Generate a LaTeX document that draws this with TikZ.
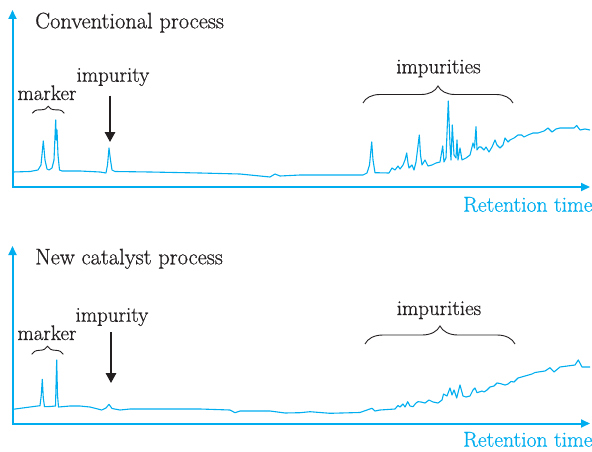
\documentclass[tikz,border=0pt]{standalone}
\usepackage{fontspec}
\usepackage{tikz}
\usetikzlibrary{arrows.meta,decorations.pathreplacing}

\newfontfamily\labelfont{Latin Modern Roman}[FakeBold=0.6]
\definecolor{chromcyan}{RGB}{0,174,239}
\definecolor{ink}{RGB}{35,31,32}

\begin{document}
\begin{tikzpicture}[x=1pt,y=-1pt,
		axis/.style={chromcyan,line width=2pt,arrows={Triangle[length=9pt,width=8pt]-Triangle[length=9pt,width=8pt]}},
		trace/.style={chromcyan,line width=1.1pt,line join=round},
		pointer/.style={ink,line width=1.6pt,-{Triangle[length=10pt,width=10.5pt]},shorten <=9.5pt},
		bracket/.style={ink,line width=0.9pt,decorate,decoration={brace,amplitude=#1}}]
				\useasboundingbox (0,0) rectangle (592,452);

				% axes of both runs
				\coordinate (top1) at (12.5,10);
				\coordinate (o1) at (12.5,187);
				\coordinate (end1) at (590,187);
				\coordinate (top2) at (12.5,246);
				\coordinate (o2) at (12.5,423.5);
				\coordinate (end2) at (590,423.5);
				\draw[axis] (top1) -- (o1) -- (end1);
				\draw[axis] (top2) -- (o2) -- (end2);

				\begin{scope}[every node/.style={inner sep=0pt,anchor=base,font=\labelfont\fontsize{21}{24}\selectfont}]
					\node[ink,anchor=base west,font=\labelfont\fontsize{22.4}{26}\selectfont] (title1) at (35,28.3) {Conventional process};
					\node[ink,anchor=base west,font=\labelfont\fontsize{22.4}{26}\selectfont] (title2) at (35,264.3) {New catalyst process};
					\node[chromcyan,anchor=base west,font=\labelfont\fontsize{21.6}{26}\selectfont] (time1) at (463,211.7) {Retention time};
					\node[chromcyan,anchor=base west,font=\labelfont\fontsize{21.6}{26}\selectfont] (time2) at (463,446.7) {Retention time};
					\node[ink] (mark1) at (47,100) {marker};
					\node[ink] (mark2) at (47,340) {marker};
					\node[ink] (imp1) at (113,81.7) {impurity};
					\node[ink] (imp2) at (112,321.7) {impurity};
					\node[ink] (imps1) at (438.5,73.3) {impurities};
					\node[ink] (imps2) at (439,315) {impurities};
				\end{scope}

				% impurity peaks
				\coordinate (peak1) at (110,142);
				\coordinate (peak2) at (111,383);
				\draw[pointer] (imp1.south -| peak1) -- (peak1);
				\draw[pointer,shorten <=6pt] (imp2.south -| peak2) -- (peak2);

				% braces
				\coordinate (mk1a) at (32.3,113.3);
				\coordinate (mk1b) at (64.3,113.3);
				\coordinate (mk2a) at (31.7,354.3);
				\coordinate (mk2b) at (63.3,354.3);
				\coordinate (im1a) at (363,103);
				\coordinate (im1b) at (513,103);
				\coordinate (im2a) at (365,344);
				\coordinate (im2b) at (515,344);
				\draw[bracket=7pt] (mk1a) -- (mk1b);
				\draw[bracket=8pt] (mk2a) -- (mk2b);
				\draw[bracket=17pt] (im1a) -- (im1b);
				\draw[bracket=18pt] (im2a) -- (im2b);

				% conventional run
				\draw[trace] (13,172) -- (30,171.5) -- (38,170) -- (41,165) -- (43.3,141) -- (45,160) -- (47,169)
					-- (49,170) -- (52,168) -- (54,160) -- (55.7,120) -- (56.3,140) -- (57,130) -- (58,155)
					-- (59.5,170) -- (62,171) -- (80,171) -- (100,172) -- (106,173) -- (107.5,165) -- (109,148)
					-- (110.5,160) -- (112,170) -- (115,171.5) -- (150,172) -- (200,173) -- (240,174) -- (270,177)
					-- (275,174) -- (280,176) -- (300,175) -- (363,175) -- (367,173) -- (369.5,165) -- (371.7,142)
					-- (373,160) -- (375,172.7) -- (389,173) -- (392,168) -- (395,170) -- (398,166) -- (400,169)
					-- (403,165) -- (405,160) -- (406.7,153) -- (408,163) -- (409,168) -- (412,165) -- (414,170)
					-- (416,162) -- (417.5,150) -- (419.3,135) -- (420.5,155) -- (422,165) -- (425,160) -- (428,166)
					-- (432,165) -- (436,163) -- (440,162) -- (442.7,146) -- (444,162) -- (446,158) -- (448.3,101)
					-- (450,145) -- (451,160) -- (452.3,125) -- (454,155) -- (456,158) -- (457,140) -- (458,160)
					-- (460,148) -- (462,160) -- (466,158) -- (470,155) -- (473,143) -- (474.5,148) -- (476,126.7)
					-- (477,150) -- (479,147) -- (481,147) -- (484,150) -- (486,147) -- (489,152) -- (492,147)
					-- (495,140) -- (497,145) -- (500,148) -- (503,145) -- (505,138) -- (508,142) -- (510,140)
					-- (514,138) -- (518,135) -- (521.7,135) -- (524,137) -- (528,135) -- (533,133) -- (538,133)
					-- (544,131) -- (548,128) -- (552,132) -- (556,129) -- (560,128) -- (570,128) -- (574,128)
					-- (576.7,125.5) -- (580,130) -- (585,129) -- (590,130);

				% new catalyst run
				\draw[trace] (13,409.3) -- (30,407) -- (40,405.7) -- (41.3,395) -- (42.3,379.3) -- (43.3,398)
					-- (44.5,406.7) -- (50,406.5) -- (55.5,406) -- (56.7,360) -- (57.5,395) -- (58.5,407) -- (70,406)
					-- (80,406) -- (90,407) -- (101.7,410) -- (106,408) -- (109,404.3) -- (112,408.5) -- (120,410)
					-- (130,409) -- (150,409) -- (200,409) -- (230,410) -- (235,412.7) -- (240,411) -- (270,411)
					-- (285,413) -- (300,412.7) -- (310,411.7) -- (330,413.3) -- (360,412.5) -- (367,410) -- (372,408.3)
					-- (375,411) -- (380,410) -- (395,409) -- (398,405.5) -- (400,407) -- (403,404) -- (405,407)
					-- (407.7,401.7) -- (410,406) -- (413,406.7) -- (416,403) -- (418,401.7) -- (421,402) -- (425,403)
					-- (429,400) -- (433,402) -- (438,403) -- (442,400) -- (443.5,394) -- (447,396) -- (450,388)
					-- (452,395) -- (454,390) -- (456.7,398) -- (460,385) -- (463,396) -- (466,397) -- (470,396)
					-- (473,390) -- (475,388) -- (477,392.7) -- (482,391) -- (484,392) -- (487,390) -- (490,387)
					-- (494,386) -- (497,383) -- (500,383.5) -- (505,385) -- (508,384) -- (511,381.5) -- (514,382)
					-- (518,378) -- (525,376) -- (532,374) -- (535,372.5) -- (545,371) -- (550,367.7) -- (554,372)
					-- (560,367) -- (575,365) -- (578.3,360) -- (582,367) -- (590,367);
			\end{tikzpicture}
\end{document}
